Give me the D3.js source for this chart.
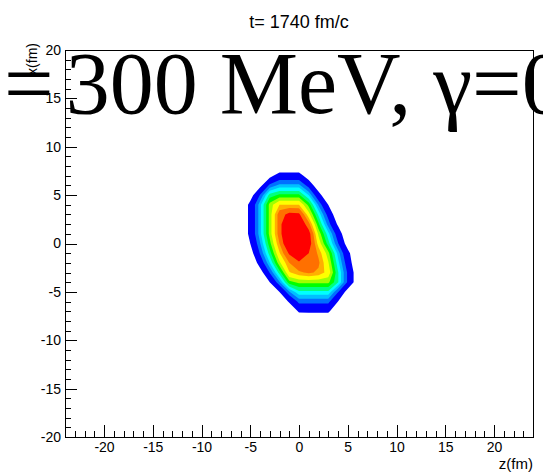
<!DOCTYPE html>
<html>
<head>
<meta charset="utf-8">
<script src="https://cdn.jsdelivr.net/npm/d3@7"></script>
<style>
body { margin: 0; background: #fff; }
svg { display: block; font-family: "Liberation Sans", Arial, sans-serif; }
</style>
</head>
<body>
<div class="chart"></div>
<script>
// bin centres of the 2D histogram (fm)
var zBins = [-6, -5, -4, -3, -2, -1, 0, 1, 2, 3, 4, 5, 6];
var xBins = [8, 7, 6, 5, 4, 3, 2, 1, 0, -1, -2, -3, -4, -5, -6, -7, -8];

// density, one row per x bin (top to bottom)
var density = [
    [0, 0,    0,    0,    0,    0,    0,    0,    0,    0,    0,    0,    0  ],
    [0, 0,    0,    0.7,  1.5,  1.5,  1.5,  0.4,  0,    0,    0,    0,    0  ],
    [0, 0,    0.7,  2.2,  2.65, 2.65, 2.65, 1.75, 0.25, 0,    0,    0,    0  ],
    [0, 0.55, 2.05, 3.5,  3.8,  3.8,  3.8,  2.9,  1.45, 0,    0,    0,    0  ],
    [0, 1.3,  2.75, 4.25, 5.0,  5.0,  5.0,  3.95, 2.45, 1.0,  0,    0,    0  ],
    [0, 1.3,  2.75, 4.25, 5.7,  6.2,  6.15, 4.7,  3.2,  1.75, 0.25, 0,    0  ],
    [0, 1.3,  2.75, 4.25, 5.7,  7.15, 6.75, 5.6,  3.8,  2.3,  0.85, 0,    0  ],
    [0, 1.3,  2.75, 4.25, 5.7,  7.15, 7.45, 6.3,  4.4,  3.05, 1.6,  0.1,  0  ],
    [0, 1.0,  2.45, 3.95, 5.4,  6.9,  7.9,  6.4,  4.8,  3.5,  2.05, 0.55, 0  ],
    [0, 0.55, 2.05, 3.5,  4.95, 6.1,  6.6,  6.0,  5.3,  4.25, 2.75, 1.3,  0  ],
    [0, 0,    1.45, 2.9,  4.4,  5.4,  5.9,  5.8,  5.5,  4.55, 3.05, 1.6,  0.1],
    [0, 0,    0.55, 2.05, 3.5,  4.95, 5.3,  5.5,  5.3,  4.8,  3.35, 1.9,  0.4],
    [0, 0,    0,    1.0,  2.45, 3.95, 4.2,  4.2,  4.2,  4.2,  3.35, 1.9,  0.4],
    [0, 0,    0,    0,    1.0,  2.45, 3.2,  3.2,  3.2,  3.2,  2.05, 0.55, 0  ],
    [0, 0,    0,    0,    0,    1.15, 2.2,  2.2,  2.2,  2.2,  1.0,  0,    0  ],
    [0, 0,    0,    0,    0,    0,    1.15, 1.2,  1.2,  1.2,  0,    0,    0  ],
    [0, 0,    0,    0,    0,    0,    0,    0,    0,    0,    0,    0,    0  ]
];

var levels = [1, 2.0, 2.5, 2.9, 3.3, 3.7, 4.1, 4.5, 5.0, 5.4, 6.0];
var levelColors = ["#0000ff", "#0070ff", "#00c0ff", "#00ffff", "#00ff80", "#00ff00",
                   "#a0ff00", "#ffff00", "#ffb000", "#ff7000", "#ff0000"];

var majorTicks = [-20, -15, -10, -5, 0, 5, 10, 15, 20];
var zMinor = d3.range(-23, 24, 1);
var xMinor = d3.range(-20, 21, 1);

var width = 543, height = 475;
var padLeft = 65, padRight = 533, padTop = 50, padBottom = 437;

var x = d3.scaleLinear().domain([-24, 24]).range([padLeft, padRight]);
var y = d3.scaleLinear().domain([-20, 20]).range([padBottom, padTop]);

var svg = d3.select(".chart")
    .append("svg")
    .attr("width", width)
    .attr("height", height);

svg.append("rect")
    .attr("width", width)
    .attr("height", height)
    .attr("fill", "#fff");

// contour bands
var flat = [].concat.apply([], density);
var contours = d3.contours()
    .size([zBins.length, xBins.length])
    .thresholds(levels)(flat);

var step = zBins[1] - zBins[0];
var project = d3.geoTransform({
    point: function(cx, cy) {
        this.stream.point(x(zBins[0] + (cx - 0.5) * step), y(xBins[0] - (cy - 0.5) * step));
    }
});

svg.append("g")
    .selectAll("path")
    .data(contours)
    .enter().append("path")
    .attr("d", d3.geoPath(project))
    .attr("fill", function(d, i) { return levelColors[i]; });

// axes, ticks pointing into the frame
function styleAxis(g) {
    g.select(".domain").remove();
    g.attr("font-family", null).attr("font-size", null);
    g.selectAll("line").attr("stroke", "#000").attr("shape-rendering", "crispEdges");
    g.selectAll("text").attr("fill", "#000").style("font-size", "14px");
}

var plain = function(d) { return String(d); };

svg.append("g")
    .attr("transform", "translate(0," + padBottom + ")")
    .call(d3.axisBottom(x).tickValues(zMinor).tickSize(-6).tickFormat(""))
    .call(styleAxis);

svg.append("g")
    .attr("transform", "translate(0," + padBottom + ")")
    .call(d3.axisBottom(x).tickValues(majorTicks).tickSize(-12).tickPadding(5).tickFormat(plain))
    .call(styleAxis);

svg.append("g")
    .attr("transform", "translate(" + padLeft + ",0)")
    .call(d3.axisLeft(y).tickValues(xMinor).tickSize(-6).tickFormat(""))
    .call(styleAxis);

svg.append("g")
    .attr("transform", "translate(" + padLeft + ",0)")
    .call(d3.axisLeft(y).tickValues(majorTicks).tickSize(-12).tickPadding(4).tickFormat(plain))
    .call(styleAxis);

svg.append("rect")
    .attr("x", padLeft + 0.5)
    .attr("y", padTop + 0.5)
    .attr("width", padRight - padLeft)
    .attr("height", padBottom - padTop)
    .attr("fill", "none")
    .attr("stroke", "#000")
    .attr("shape-rendering", "crispEdges");

// titles
svg.append("text")
    .attr("x", (padLeft + padRight) / 2)
    .attr("y", 28)
    .attr("text-anchor", "middle")
    .style("font-size", "18px")
    .text("t= 1740 fm/c");

svg.append("text")
    .attr("x", padRight)
    .attr("y", 469)
    .attr("text-anchor", "end")
    .style("font-size", "15px")
    .text("z(fm)");

svg.append("text")
    .attr("transform", "translate(37,43) rotate(-90)")
    .attr("text-anchor", "end")
    .style("font-size", "14px")
    .text("x(fm)");

// big overlaid label
var big = svg.append("text")
    .attr("x", 4)
    .attr("y", 113)
    .style("font-family", "'Liberation Serif', 'Times New Roman', serif")
    .style("font-size", "88px")
    .attr("fill", "#000");
big.append("tspan").text("=");
big.append("tspan").attr("dx", 12).text("300 MeV, γ=0.5");
</script>
</body>
</html>
